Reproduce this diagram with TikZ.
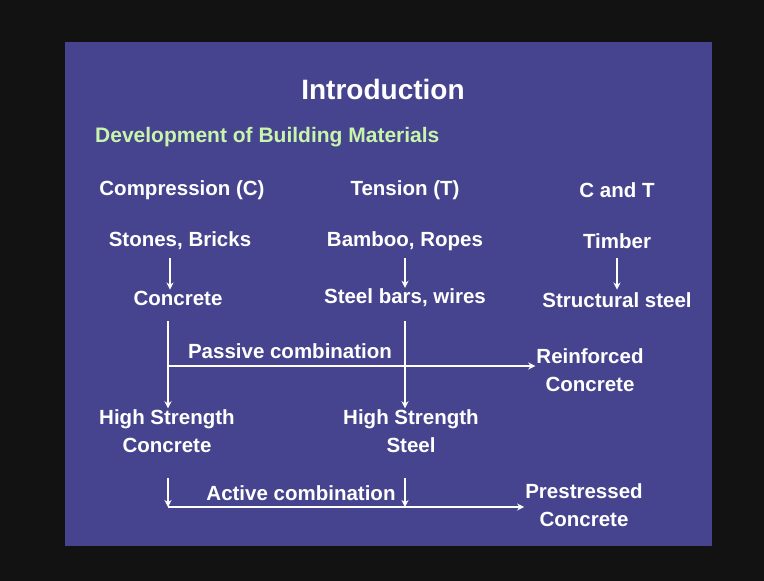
\documentclass[tikz,border=0pt]{standalone}
\usepackage{fontspec}
\setmainfont{Liberation Sans}
\usetikzlibrary{positioning, arrows.meta}
\definecolor{slideblue}{RGB}{70,68,142}
\definecolor{subgreen}{RGB}{200,245,172}
\tikzset{
  heading/.style={font=\bfseries\fontsize{28}{30}\selectfont, text=white},
  subheading/.style={font=\bfseries\fontsize{21}{24}\selectfont, text=subgreen, anchor=west, inner sep=0pt},
  item/.style={font=\bfseries\fontsize{20.5}{28}\selectfont, text=white, align=center, inner sep=1pt},
  flow/.style={white, line width=1.5pt, -{Stealth[length=7pt,width=7pt]}}
}

\begin{document}
\begin{tikzpicture}[x=1pt,y=-1pt]
    \useasboundingbox (0,0) rectangle (764,581);
    \fill[black!93] (0,0) rectangle (764,581);
    \fill[slideblue] (65,42) rectangle (712,546);

    % Titulos
    \node[heading] (title) at (383,89) {Introduction};
    \node[subheading] (sub) at (95,137) {Development of Building Materials};

    % Columnas
    \node[item] (comp) at (182,190) {Compression (C)};
    \node[item] (tens) at (405,190) {Tension (T)};
    \node[item] (cand) at (617,190) {C and T};

    \node[item] (stones) at (180,241) {Stones, Bricks};
    \node[item] (bamboo) at (405,241) {Bamboo, Ropes};
    \node[item] (timber) at (617,241) {Timber};

    \node[item] (concrete) at (178,298) {Concrete};
    \node[item] (steelbars) at (405,298) {Steel bars, wires};
    \node[item] (structsteel) at (617,300) {Structural steel};

    \node[item] (hsc) at (167,431) {High Strength\\Concrete};
    \node[item] (hss) at (411,431) {High Strength\\Steel};

    \node[item] (rc) at (590,370) {Reinforced\\Concrete};
    \node[item] (psc) at (584,505) {Prestressed\\Concrete};

    \node[item] (passlbl) at (290,351) {Passive combination};
    \node[item] (actlbl) at (301,493) {Active combination};

    % Flechas cortas
    \coordinate (s1) at (170,258);
    \coordinate (b1) at (405,258);
    \coordinate (t1) at (617,258);
    \draw[flow] (s1) -- (s1 |- concrete.north);
    \draw[flow] (b1) -- (b1 |- steelbars.north);
    \draw[flow] (t1) -- (t1 |- concrete.north);

    % Combinacion pasiva
    \coordinate (cdown) at (168,321);
    \coordinate (pass) at (168,366);
    \coordinate (sdown) at (405,321);
    \draw[flow] (cdown) -- (cdown |- hsc.north);
    \draw[flow] (sdown) -- (sdown |- hss.north);
    \draw[flow] (pass) -- (pass -| rc.west);

    % Combinacion activa
    \coordinate (act) at (168,507);
    \coordinate (cact) at (168,478);
    \coordinate (sact) at (405,478);
    \draw[flow] (cact) -- (act);
    \draw[flow] (sact) -- (sact |- act);
    \draw[flow] (act) -- (act -| psc.west);
\end{tikzpicture}
\end{document}
